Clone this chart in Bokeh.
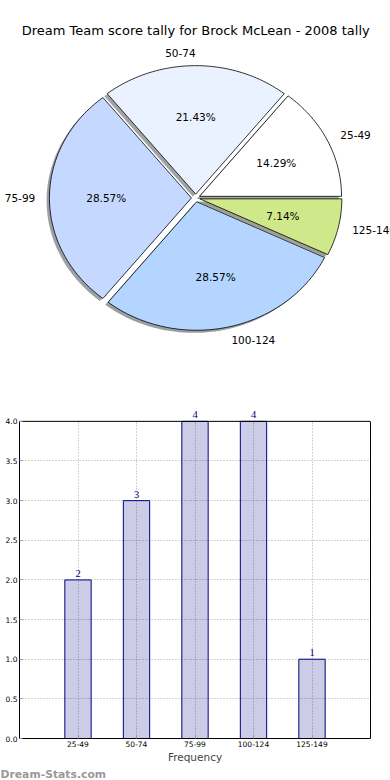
import math
from bokeh.plotting import figure
from bokeh.models import (Range1d, Label, LabelSet, FixedTicker, PrintfTickFormatter,
                          ColumnDataSource, LinearAxis, Title)
from bokeh.embed import file_html
from bokeh.resources import INLINE

# ---------------- data ----------------
TITLE = "Dream Team score tally for Brock McLean - 2008 tally"
categories = ["25-49", "50-74", "75-99", "100-124", "125-149"]
counts = [2, 3, 4, 4, 1]
pie_colors = ["#ffffff", "#ebf2ff", "#c5d8ff", "#b3d5ff", "#cfe98a"]
y_ticks = [0.0, 0.5, 1.0, 1.5, 2.0, 2.5, 3.0, 3.5, 4.0]
y_max = 4.0
x_label = "Frequency"
watermark = "Dream-Stats.com"

FONT = "DejaVu Sans"
W = 390
H_PIE = 380
H_BAR = 400

# ---------------- pie ----------------
S = 142.0                  # px per radius unit (both axes, so the aspect is 1)
ASPECT = 128.5 / 142.0     # the reference pie is slightly squashed vertically
CX, CY = 195.2, 197.5      # pie centre inside the figure, px from left / top
EXPLODE = 0.03
SHADOW = 0.02

pie = figure(width=W, height=H_PIE, output_backend="svg", toolbar_location=None,
             x_range=Range1d(-CX / S, (W - CX) / S),
             y_range=Range1d(-(H_PIE - CY) / S, CY / S),
             x_axis_location=None, y_axis_location=None, min_border=0,
             match_aspect=False, outline_line_color=None,
             background_fill_color="white")
pie.grid.visible = False

def hex_rgb(h):
    h = h.lstrip("#")
    return tuple(int(h[i:i + 2], 16) for i in (0, 2, 4))

total = float(sum(counts))
pxs, pys, pfill, palpha, pline = [], [], [], [], []
lab_l = dict(x=[], y=[], t=[])
lab_r = dict(x=[], y=[], t=[])
pct = dict(x=[], y=[], t=[])
acc = 0.0
for cat, c, col in zip(categories, counts, pie_colors):
    frac = c / total
    t1, t2 = 360.0 * acc, 360.0 * (acc + frac)
    acc += frac
    mid = math.radians((t1 + t2) / 2)
    ox, oy = EXPLODE * math.cos(mid), EXPLODE * math.sin(mid)
    n = max(int(abs(t2 - t1) / 1.5) + 2, 4)
    angs = [math.radians(t1 + (t2 - t1) * k / (n - 1)) for k in range(n)]
    wx = [ox] + [ox + math.cos(a) for a in angs]
    wy = [oy] + [oy + math.sin(a) for a in angs]
    r, g, b = hex_rgb(col)
    # shadow
    pxs.append([v - SHADOW for v in wx])
    pys.append([(v - SHADOW) * ASPECT for v in wy])
    pfill.append("#%02x%02x%02x" % (int(r * .3), int(g * .3), int(b * .3)))
    palpha.append(0.5); pline.append(0.0)
    # wedge
    pxs.append(wx)
    pys.append([v * ASPECT for v in wy])
    pfill.append(col); palpha.append(1.0); pline.append(1.0)
    # labels
    lx = ox + 1.1 * math.cos(mid)
    ly = (oy + 1.1 * math.sin(mid)) * ASPECT
    d = lab_l if math.cos(mid) > 0.01 else lab_r
    d["x"].append(lx); d["y"].append(ly); d["t"].append(cat)
    pct["x"].append(ox + 0.6 * math.cos(mid))
    pct["y"].append((oy + 0.6 * math.sin(mid)) * ASPECT)
    pct["t"].append("%.2f%%" % (100.0 * frac))

pie.patches(xs=pxs, ys=pys, fill_color=pfill, fill_alpha=palpha,
            line_color="black", line_alpha=pline, line_width=0.8)
for d, al in ((lab_l, "left"), (lab_r, "right"), (pct, "center")):
    pie.text(x=d["x"], y=d["y"], text=d["t"], text_align=al,
             text_baseline="middle", text_font_size="10.5px", text_color="black",
             text_font={"value": FONT})
pie.add_layout(Label(x=0, y=(CY - 30) / S, text=TITLE, text_align="center",
                     text_baseline="middle", text_font=FONT, text_font_size="13px",
                     text_color="black"))

# ---------------- bars ----------------
TOP_BORDER = 16          # px above the frame
BOTTOM_EST = 40          # expected px below the frame (axis + watermark)
BOX_TOP_PAGE = 421       # page px of the y = 4.0 line
BOX_BOTTOM_PAGE = 740    # page px of y = 0
frame_h = H_BAR - TOP_BORDER - BOTTOM_EST
PX_PER_UNIT = (BOX_BOTTOM_PAGE - BOX_TOP_PAGE) / y_max
y_end = frame_h / PX_PER_UNIT

xpos = list(range(len(categories)))
bar = figure(width=W, height=H_BAR, output_backend="svg", toolbar_location=None,
             x_range=Range1d(-1, 5), y_range=Range1d(0, y_end),
             min_border_left=19, min_border_right=20, min_border_top=TOP_BORDER,
             min_border_bottom=BOTTOM_EST, outline_line_color=None,
             background_fill_color="white")

bar.xgrid.ticker = FixedTicker(ticks=xpos)
bar.ygrid.ticker = FixedTicker(ticks=y_ticks)
for gr in (bar.xgrid, bar.ygrid):
    gr.grid_line_color = "#a8a8a8"
    gr.grid_line_dash = "1 2"
    gr.grid_line_width = 1

# white strip above the 4.0 line hides the grid there; then the box top line
bar.quad(left=-1, right=5, bottom=y_max, top=y_end, fill_color="white", line_color=None)
bar.vbar(x=xpos, top=counts, width=0.45, fill_color="navy", fill_alpha=0.2,
         line_color="navy", line_width=1)
bar.segment(x0=-1, x1=5, y0=y_max, y1=y_max, line_color="black", line_width=1)

src = ColumnDataSource(dict(x=xpos, y=counts, t=[str(c) for c in counts]))
bar.add_layout(LabelSet(x="x", y="y", text="t", source=src, text_align="center",
                        text_baseline="bottom", y_offset=3, text_font=FONT,
                        text_font_size="10.5px", text_color="navy"))

bar.xaxis.ticker = FixedTicker(ticks=xpos)
bar.xaxis.major_label_overrides = {i: c for i, c in zip(xpos, categories)}
bar.yaxis.ticker = FixedTicker(ticks=y_ticks)
bar.yaxis.formatter = PrintfTickFormatter(format="%.1f")
bar.yaxis.bounds = (0, y_max)
bar.xaxis.axis_label = x_label

right_axis = LinearAxis(ticker=FixedTicker(ticks=[]), bounds=(0, y_max),
                        major_label_standoff=0, axis_line_color="black",
                        major_tick_line_color=None, minor_tick_line_color=None)
bar.add_layout(right_axis, "right")

for ax in (bar.xaxis[0], bar.yaxis[0]):
    ax.major_label_text_font = FONT
    ax.major_label_text_color = "black"
    ax.major_label_text_font_size = "7.5px"
    ax.major_label_standoff = 2
    ax.major_tick_out = 0
    ax.major_tick_in = 3
    ax.major_tick_line_color = "#999999"
    ax.minor_tick_line_color = None
    ax.axis_line_color = "black"
bar.xaxis.axis_label_text_font = FONT
bar.xaxis.axis_label_text_font_size = "10.5px"
bar.xaxis.axis_label_text_font_style = "normal"
bar.xaxis.axis_label_standoff = 1

bar.add_layout(Title(text=watermark, align="left", offset=-19, standoff=0,
                     text_font=FONT, text_font_size="10.8px", text_font_style="bold",
                     text_color="#999999"), "below")

# two separate roots, stacked, so the pie's frame is not aligned to the bar frame
open("out.html", "w").write(file_html([pie, bar], INLINE))
